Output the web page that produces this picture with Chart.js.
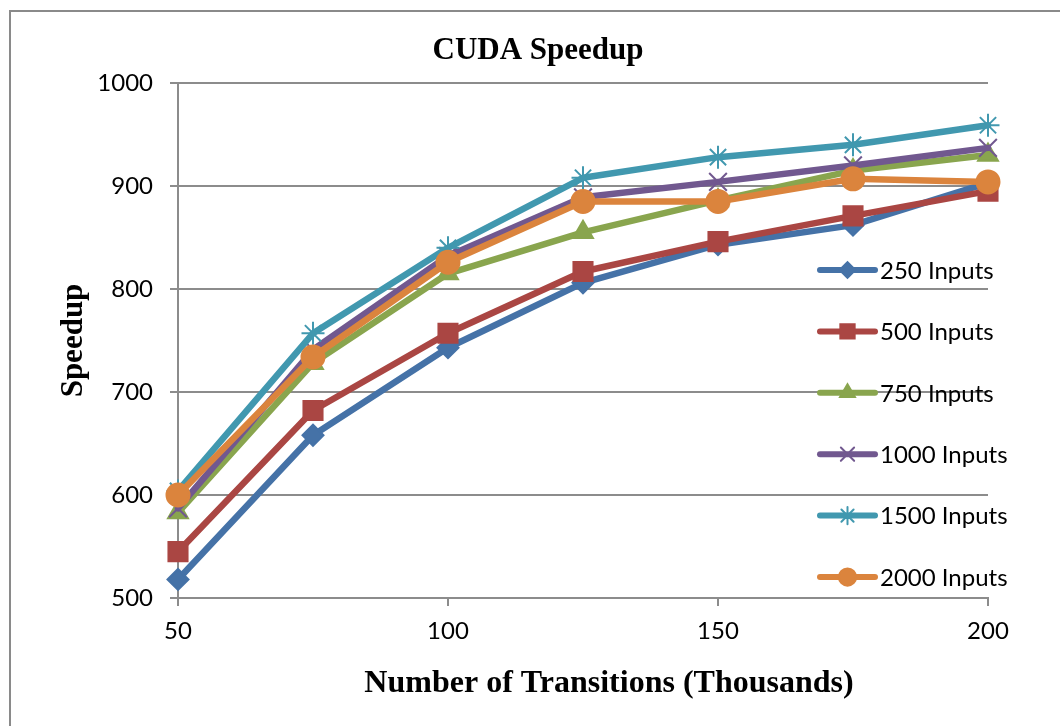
<!DOCTYPE html>
<html>
<head>
<meta charset="utf-8">
<title>CUDA Speedup</title>
<script src="https://cdn.jsdelivr.net/npm/chart.js@4.4.1/dist/chart.umd.min.js"></script>
<style>
    html, body { margin: 0; padding: 0; background: #fff; overflow: hidden; }
    #cadre { position: absolute; left: 9px; top: 10px; width: 1100px; height: 800px; border: 2px solid #8a8a8a; }
    #zone { position: absolute; left: 0; top: 0; width: 1060px; height: 726px; }
</style>
</head>
<body>
<div id="cadre"></div>
<div id="zone"><canvas id="graphe" width="1060" height="726"></canvas></div>
<script>
// Données
const chartTitle = 'CUDA Speedup';
const xTitle = 'Number of Transitions (Thousands)';
const yTitle = 'Speedup';
const transitions = [50, 75, 100, 125, 150, 175, 200];

const seriesNames = ['250 Inputs', '500 Inputs', '750 Inputs', '1000 Inputs', '1500 Inputs', '2000 Inputs'];
const s250 = [518, 658, 743, 806, 843, 862, 903];
const s500 = [545, 682, 757, 817, 846, 871, 895];
const s750 = [583, 728, 815, 855, 886, 915, 930];
const s1000 = [587, 741, 832, 889, 904, 920, 937];
const s1500 = [604, 757, 840, 908, 928, 940, 959];
const s2000 = [600, 734, 826, 885, 885, 907, 904];
const seriesValues = [s250, s500, s750, s1000, s1500, s2000];

const couleurs = ['#4572A7', '#AA4643', '#89A54E', '#71588F', '#4198AF', '#DB843D'];
const marqueurs = ['rectRot', 'rect', 'triangle', 'crossRot', 'star', 'circle'];
const rayons = [10.5, 13.5, 11.5, 12.5, 11.5, 11.5];

const sansFont = 'Lato';
const serifFont = '"Liberation Serif", "Times New Roman", serif';
const gris = '#8c8c8c';

// Construction des séries
const datasets = seriesNames.map((nom, i) => ({
    label: nom,
    data: transitions.map((x, k) => ({ x: x, y: seriesValues[i][k] })),
    borderColor: couleurs[i],
    backgroundColor: couleurs[i],
    pointBackgroundColor: couleurs[i],
    pointBorderColor: couleurs[i],
    pointStyle: marqueurs[i],
    pointRadius: rayons[i],
    pointHoverRadius: rayons[i],
    pointBorderWidth: 2,
    borderWidth: 6.5,
    borderJoinStyle: 'round',
    borderCapStyle: 'round',
    tension: 0,
    clip: false,
    order: seriesNames.length - i
}));

// Titres et légende dessinés à la main
const decor = {
    id: 'decor',
    afterDraw(chart) {
        const ctx = chart.ctx;
        ctx.save();
        ctx.fillStyle = '#000';
        ctx.textAlign = 'center';
        ctx.textBaseline = 'middle';
        ctx.font = 'bold 31px ' + serifFont;
        ctx.fillText(chartTitle, 538, 51);
        ctx.font = 'bold 32px ' + serifFont;
        ctx.fillText(xTitle, 609, 684);

        const x0 = 820, x1 = 875, top = 270, pas = 61.4;
        ctx.textAlign = 'left';
        ctx.font = '24px ' + sansFont;
        seriesNames.forEach((nom, i) => {
            const y = top + i * pas;
            ctx.strokeStyle = couleurs[i];
            ctx.fillStyle = couleurs[i];
            ctx.lineWidth = 6;
            ctx.lineCap = 'round';
            ctx.beginPath();
            ctx.moveTo(x0, y);
            ctx.lineTo(x1, y);
            ctx.stroke();
            ctx.lineWidth = 2;
            Chart.helpers.drawPoint(ctx, {
                pointStyle: marqueurs[i],
                radius: rayons[i] * 0.75,
                rotation: 0,
                borderWidth: 2
            }, (x0 + x1) / 2, y);
            ctx.fillStyle = '#000';
            ctx.fillText(nom, 880, y + 1);
        });
        ctx.restore();
    }
};

new Chart(document.getElementById('graphe'), {
    type: 'line',
    data: { datasets: datasets },
    plugins: [decor],
    options: {
        responsive: false,
        animation: false,
        layout: { padding: { top: 83, right: 72, bottom: 0, left: 16 } },
        plugins: {
            legend: { display: false },
            title: { display: false },
            tooltip: { enabled: false }
        },
        scales: {
            x: {
                type: 'linear',
                min: 50,
                max: 200,
                ticks: {
                    stepSize: 50,
                    color: '#000',
                    padding: 11,
                    font: { family: sansFont, size: 24 },
                    callback: (v) => String(v)
                },
                grid: { drawOnChartArea: false, color: gris, lineWidth: 2, tickLength: 8 },
                border: { display: true, color: gris, width: 2 },
                afterFit(scale) { scale.height = 128; }
            },
            y: {
                min: 500,
                max: 1000,
                ticks: {
                    stepSize: 100,
                    color: '#000',
                    padding: 17,
                    font: { family: sansFont, size: 24 },
                    callback: (v) => String(v)
                },
                grid: { color: gris, lineWidth: 2, tickLength: 8 },
                border: { display: true, color: gris, width: 2 },
                title: {
                    display: true,
                    text: yTitle,
                    color: '#000',
                    font: { family: serifFont, size: 31, weight: 'bold' },
                    padding: { top: 39, bottom: 0 }
                },
                afterFit(scale) { scale.width = 162; }
            }
        }
    }
});
</script>
</body>
</html>
